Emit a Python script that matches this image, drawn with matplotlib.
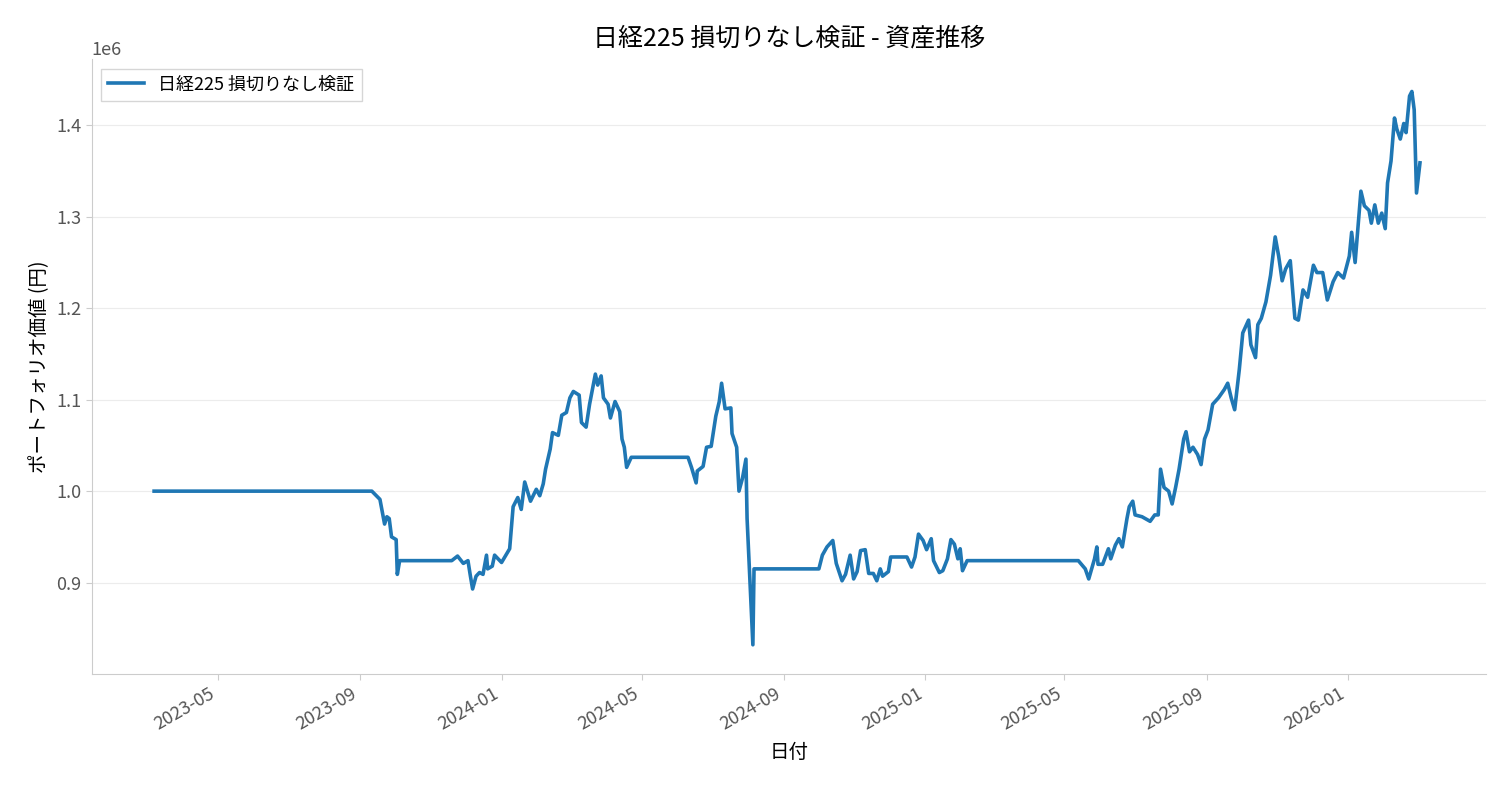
import matplotlib
matplotlib.use("Agg")
import matplotlib.pyplot as plt
import matplotlib.dates as mdates
import pandas as pd

plt.rcParams['font.family'] = ['Noto Sans CJK JP', 'DejaVu Sans']

dates = ["2023-03-07","2023-09-11","2023-09-18","2023-09-22","2023-09-24","2023-09-26","2023-09-28","2023-10-02","2023-10-03","2023-10-05",
"2023-11-19","2023-11-24","2023-11-29","2023-12-03","2023-12-05","2023-12-07","2023-12-10","2023-12-13","2023-12-16","2023-12-19","2023-12-20","2023-12-24","2023-12-26",
"2024-01-01","2024-01-08","2024-01-11","2024-01-15","2024-01-18","2024-01-21","2024-01-26","2024-01-31","2024-02-03","2024-02-06","2024-02-08","2024-02-12","2024-02-14","2024-02-19","2024-02-22","2024-02-26","2024-02-29",
"2024-03-03","2024-03-08","2024-03-10","2024-03-14","2024-03-17","2024-03-22","2024-03-24","2024-03-27","2024-03-29","2024-04-02","2024-04-04","2024-04-08","2024-04-12","2024-04-14","2024-04-16","2024-04-18","2024-04-22",
"2024-06-10","2024-06-13","2024-06-17","2024-06-18","2024-06-23","2024-06-26","2024-06-30","2024-07-04","2024-07-07","2024-07-09","2024-07-12","2024-07-17","2024-07-18","2024-07-22","2024-07-24","2024-07-27","2024-07-30","2024-07-31","2024-08-05","2024-08-06",
"2024-10-01","2024-10-04","2024-10-08","2024-10-13","2024-10-16","2024-10-21","2024-10-24","2024-10-28","2024-10-31","2024-11-03","2024-11-06","2024-11-10","2024-11-13","2024-11-17","2024-11-20","2024-11-23","2024-11-25","2024-11-30","2024-12-02",
"2024-12-16","2024-12-20","2024-12-23","2024-12-26","2024-12-30","2025-01-02","2025-01-06","2025-01-08","2025-01-13","2025-01-16","2025-01-20","2025-01-23","2025-01-26","2025-01-29","2025-01-31","2025-02-02","2025-02-06",
"2025-05-13","2025-05-19","2025-05-22","2025-05-27","2025-05-29","2025-05-30","2025-06-03","2025-06-08","2025-06-10","2025-06-14","2025-06-17","2025-06-20","2025-06-24","2025-06-26","2025-06-29","2025-07-01","2025-07-07","2025-07-14","2025-07-18","2025-07-21","2025-07-23","2025-07-26","2025-07-30",
"2025-08-02","2025-08-05","2025-08-08","2025-08-12","2025-08-14","2025-08-17","2025-08-20","2025-08-24","2025-08-27","2025-08-30","2025-09-02","2025-09-06","2025-09-11","2025-09-16","2025-09-19","2025-09-22","2025-09-25","2025-09-29",
"2025-10-02","2025-10-07","2025-10-09","2025-10-13","2025-10-15","2025-10-18","2025-10-22","2025-10-26","2025-10-30","2025-11-02","2025-11-05","2025-11-08","2025-11-12","2025-11-16","2025-11-19","2025-11-23","2025-11-27",
"2025-12-02","2025-12-05","2025-12-10","2025-12-14","2025-12-19","2025-12-23","2025-12-28","2026-01-02","2026-01-04","2026-01-07","2026-01-12","2026-01-15","2026-01-19","2026-01-21","2026-01-24","2026-01-27","2026-01-30",
"2026-02-02","2026-02-04","2026-02-07","2026-02-10","2026-02-12","2026-02-15","2026-02-18","2026-02-20","2026-02-23","2026-02-25","2026-02-27","2026-03-01","2026-03-04"]

values = [1.000,1.000,0.991,0.964,0.972,0.970,0.950,0.947,0.909,0.924,
0.924,0.929,0.921,0.924,0.908,0.893,0.907,0.911,0.909,0.930,0.915,0.918,0.930,
0.922,0.937,0.983,0.993,0.980,1.010,0.989,1.002,0.995,1.008,1.024,1.046,1.064,1.061,1.083,1.086,1.102,
1.109,1.105,1.075,1.070,1.095,1.128,1.116,1.126,1.102,1.095,1.080,1.098,1.087,1.057,1.048,1.026,1.037,
1.037,1.026,1.009,1.022,1.027,1.048,1.049,1.082,1.098,1.118,1.090,1.091,1.063,1.048,1.000,1.014,1.035,0.970,0.832,0.915,
0.915,0.930,0.939,0.946,0.921,0.902,0.909,0.930,0.904,0.912,0.935,0.936,0.910,0.910,0.902,0.915,0.907,0.912,0.928,
0.928,0.917,0.928,0.953,0.946,0.936,0.948,0.924,0.911,0.913,0.926,0.947,0.942,0.926,0.937,0.913,0.924,
0.924,0.915,0.904,0.926,0.939,0.920,0.920,0.937,0.926,0.941,0.948,0.939,0.970,0.983,0.989,0.974,0.972,0.967,0.974,0.974,1.024,1.004,1.000,
0.986,1.004,1.024,1.057,1.065,1.043,1.048,1.040,1.029,1.057,1.067,1.095,1.102,1.111,1.118,1.102,1.089,1.133,
1.173,1.187,1.160,1.146,1.182,1.189,1.207,1.236,1.278,1.257,1.230,1.243,1.252,1.189,1.187,1.220,1.212,
1.247,1.239,1.239,1.209,1.229,1.239,1.233,1.257,1.283,1.250,1.328,1.312,1.307,1.293,1.313,1.293,1.304,
1.287,1.337,1.361,1.408,1.396,1.385,1.402,1.392,1.432,1.437,1.417,1.326,1.359]

x = pd.to_datetime(dates)
y = [v * 1e6 for v in values]

fig, ax = plt.subplots(figsize=(15.01, 7.93), dpi=100)
ax.plot(x, y, color='#1f77b4', lw=2.6, label='日経225 損切りなし検証')
ax.set_title('日経225 損切りなし検証 - 資産推移', fontsize=18, pad=10)
ax.set_xlabel('日付', fontsize=14, labelpad=6)
ax.set_ylabel('ポートフォリオ価値 (円)', fontsize=14)
ax.xaxis.set_major_locator(mdates.MonthLocator(bymonth=[1, 5, 9]))
ax.xaxis.set_major_formatter(mdates.DateFormatter('%Y-%m'))
for lab in ax.get_xticklabels():
    lab.set_rotation(30); lab.set_ha('right')
ax.set_xlim(pd.Timestamp('2023-01-12'), pd.Timestamp('2026-04-30'))
ax.set_ylim(0.80e6, 1.472e6)
ax.set_yticks([0.9e6, 1.0e6, 1.1e6, 1.2e6, 1.3e6, 1.4e6])
ax.grid(axis='y', color='#ececec', lw=0.8)
ax.set_axisbelow(True)
for s in ['top', 'right']:
    ax.spines[s].set_visible(False)
for s in ['left', 'bottom']:
    ax.spines[s].set_color('#cccccc')
ax.tick_params(colors='#555555', labelsize=13, length=4)
ax.tick_params(axis='both', color='#cccccc')
ax.yaxis.get_offset_text().set_color('#555555')
ax.yaxis.get_offset_text().set_fontsize(13)
ax.legend(loc='upper left', fontsize=13, frameon=True, edgecolor='#cccccc', fancybox=False)
fig.subplots_adjust(left=0.061, right=0.99, top=0.925, bottom=0.15)
fig.savefig('out.png', dpi=100)
